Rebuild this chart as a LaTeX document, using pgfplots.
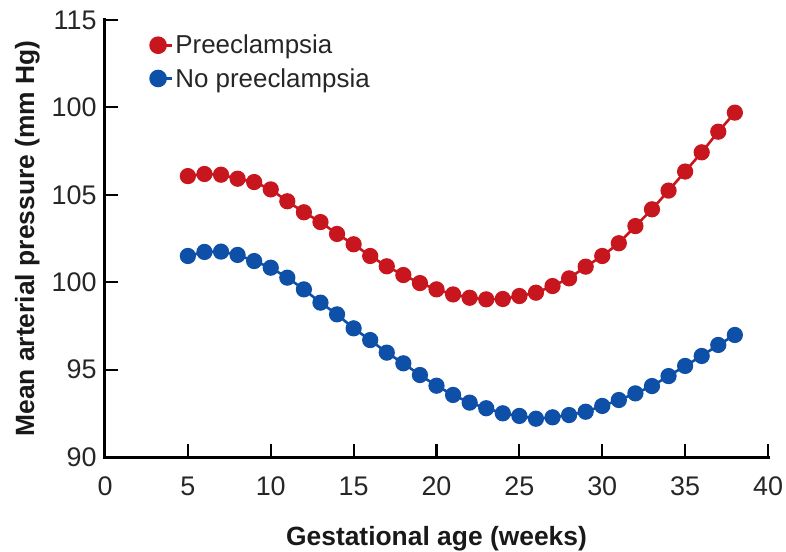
\documentclass[border=0pt]{standalone}
\usepackage{fontspec}
\setmainfont{Liberation Sans}
\usepackage{pgfplots}
\pgfplotsset{compat=1.18}
\definecolor{pred}{HTML}{C8161E}
\definecolor{pblue}{HTML}{0E4FA8}
\begin{document}
\begin{tikzpicture}
\begin{axis}[
  at={(0,0)}, anchor=south west,
  scale only axis, width=663bp, height=437bp,
  xmin=0, xmax=40, ymin=90, ymax=115,
  axis lines*=left,
  axis line style={line width=3bp, line cap=rect},
  tick align=inside,
  major tick length=13bp,
  every tick/.style={line width=2.2bp, black},
  xtick={0,5,...,40},
  ytick={90,95,100,105,110,115},
  yticklabels={90,95,100,105,100,115},
  /pgf/number format/assume math mode=true,
  tick label style={font=\fontsize{27}{31}\selectfont, color=black!85},
  xticklabel style={yshift=-16bp},
  yticklabel style={xshift=-5bp},
  xlabel={\textbf{Gestational age (weeks)}},
  ylabel={\textbf{Mean arterial pressure (mm Hg)}},
  label style={font=\fontsize{26.5}{30}\selectfont, color=black!90},
  xlabel style={yshift=-24bp},
  ylabel style={yshift=5bp},
  legend style={draw=none, fill=none, at={(0.064,0.975)}, anchor=north west,
    font=\fontsize{26}{30}\selectfont, row sep=9bp, color=black!85},
  legend cell align=left,
  legend image code/.code={\draw[mark=*, mark size=7.5bp, #1] plot coordinates {(6bp,0bp)};
    \path (0bp,0bp) -- (20bp,0bp);},
  clip=false,
]
\addplot[pred, line width=2.6bp, mark=*, mark size=6.8bp, mark options={fill=pred, draw=pred}] coordinates {
(5,106.07) (6,106.19) (7,106.15) (8,105.92) (9,105.73) (10,105.31) (11,104.63) (12,104.0)
(13,103.44) (14,102.76) (15,102.17) (16,101.5) (17,100.91) (18,100.41) (19,99.95) (20,99.59)
(21,99.3) (22,99.11) (23,99.02) (24,99.04) (25,99.21) (26,99.40) (27,99.78) (28,100.22)
(29,100.89) (30,101.5) (31,102.23) (32,103.21) (33,104.17) (34,105.24) (35,106.33) (36,107.43)
(37,108.61) (38,109.7)
};
\addlegendentry{Preeclampsia}
\addplot[pblue, line width=2.6bp, mark=*, mark size=6.8bp, mark options={fill=pblue, draw=pblue}] coordinates {
(5,101.5) (6,101.73) (7,101.75) (8,101.56) (9,101.21) (10,100.83) (11,100.26) (12,99.59)
(13,98.83) (14,98.16) (15,97.36) (16,96.69) (17,95.97) (18,95.36) (19,94.69) (20,94.08)
(21,93.55) (22,93.11) (23,92.79) (24,92.50) (25,92.35) (26,92.19) (27,92.27) (28,92.40)
(29,92.59) (30,92.92) (31,93.26) (32,93.64) (33,94.06) (34,94.63) (35,95.21) (36,95.78)
(37,96.41) (38,96.98)
};
\addlegendentry{No preeclampsia}
\end{axis}
\pgfresetboundingbox
\path[use as bounding box] (-105bp,-95bp) rectangle (681bp,457bp);
\end{tikzpicture}
\end{document}
